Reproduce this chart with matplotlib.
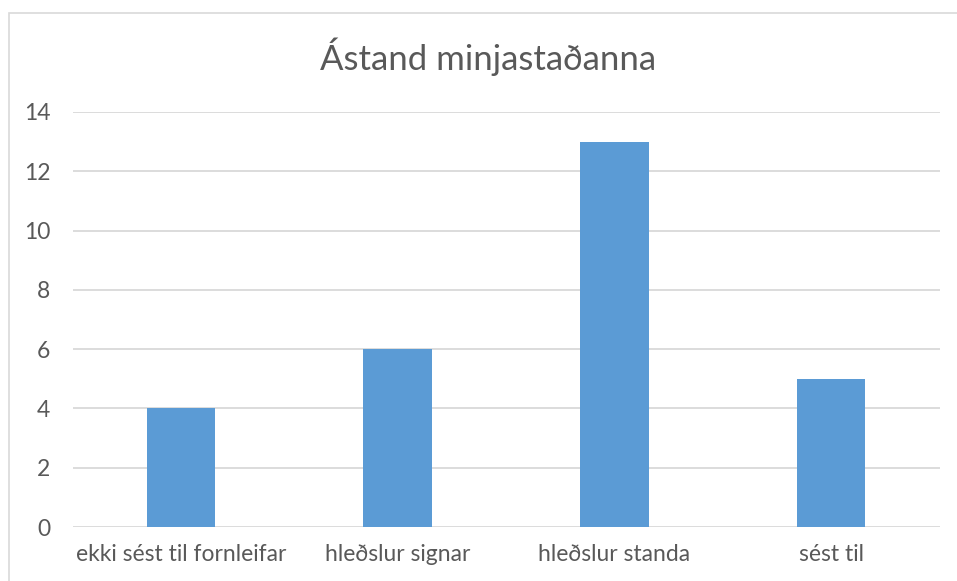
import matplotlib.pyplot as plt
from matplotlib.patches import Rectangle

# gogn
flokkar = ['ekki sést til fornleifar', 'hleðslur signar', 'hleðslur standa', 'sést til']
fjoldi = [4, 6, 13, 5]
y_ticks = [0, 2, 4, 6, 8, 10, 12, 14]

plt.rcParams['font.family'] = ['Lato', 'DejaVu Sans']

fig = plt.figure(figsize=(9.57, 5.81), dpi=100)
fig.patch.set_facecolor('white')

# rammi utan um allt
fig.patches.append(Rectangle((9 / 957, -0.05), 1.0, 1 - 13 / 581 + 0.05,
                             transform=fig.transFigure, fill=False,
                             edgecolor='#D9D9D9', linewidth=1.2))

ax = fig.add_axes([72.5 / 957, 54 / 581, 867 / 957, 415 / 581])
x = range(len(flokkar))
ax.bar(x, fjoldi, width=0.315, color='#5B9BD5', zorder=3)

ax.set_xlim(-0.5, len(flokkar) - 0.5)
ax.set_ylim(0, 14)
ax.set_yticks(y_ticks)
ax.set_xticks(list(x))
ax.set_xticklabels(flokkar)
ax.grid(axis='y', color='#D9D9D9', linewidth=1.3, zorder=0)
for s in ax.spines.values():
    s.set_visible(False)
ax.tick_params(axis='both', length=0, labelsize=16.5, colors='#595959')
ax.tick_params(axis='y', pad=16)
ax.tick_params(axis='x', pad=12)

fig.text(488 / 957, 1 - 57 / 581, 'Ástand minjastaðanna', ha='center', va='center',
         fontsize=25, color='#595959')

fig.savefig('out.png', dpi=100)
